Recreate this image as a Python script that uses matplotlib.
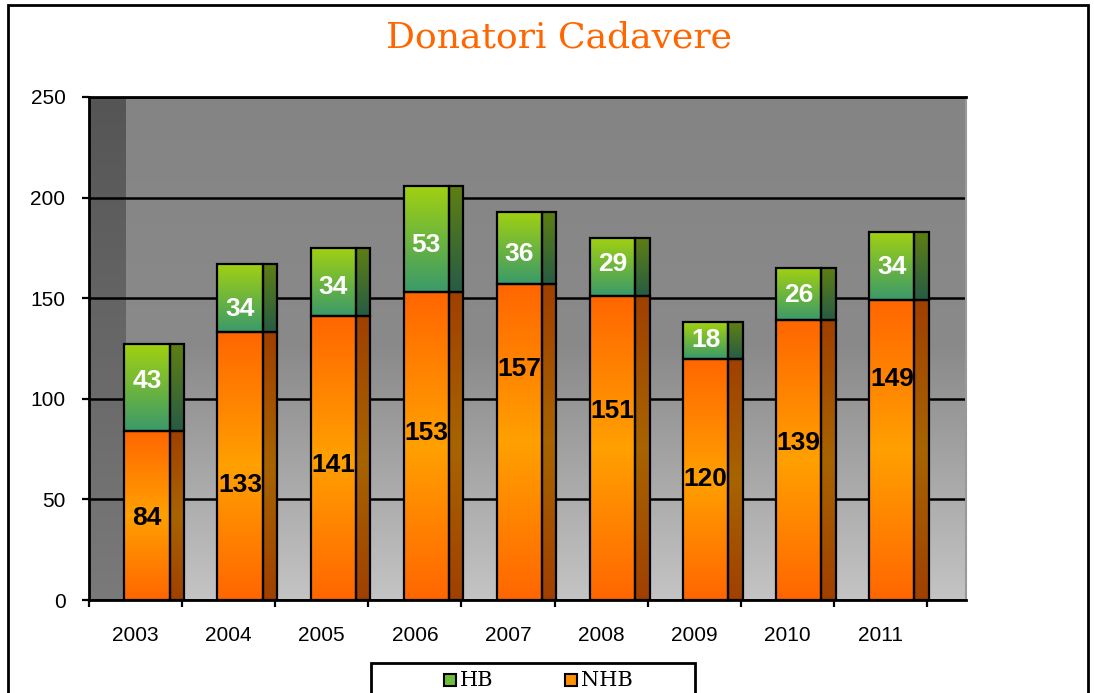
import numpy as np
import matplotlib
matplotlib.use('Agg')
import matplotlib.pyplot as plt
from matplotlib.colors import LinearSegmentedColormap
from matplotlib.patches import Rectangle

# ---- data ----
years = ['2003', '2004', '2005', '2006', '2007', '2008', '2009', '2010', '2011']
nhb = [84, 133, 141, 153, 157, 151, 120, 139, 149]
hb = [43, 34, 34, 53, 36, 29, 18, 26, 34]
nhb_label_pos = [41, 57, 67, 83, 115, 94, 60, 78, 110]
hb_label_pos = [109, 144.5, 155.5, 176.5, 172, 167, 129, 151.5, 165.5]

W, H = 1094, 693
fig = plt.figure(figsize=(W / 100, H / 100), dpi=100)
fig.patch.set_facecolor('white')

ax_l, ax_r, ax_t, ax_b = 89, 966, 97, 600
cat_px = (927 - 89) / 9.0
ax = fig.add_axes([ax_l / W, 1 - ax_b / H, (ax_r - ax_l) / W, (ax_b - ax_t) / H])
x_right = -0.5 + (ax_r - ax_l) / cat_px
wall_split = -0.5 + 37 / cat_px

def vgrad(x0, x1, y0, y1, stops, zorder, clip=None):
    cmap = LinearSegmentedColormap.from_list('g', stops)
    grad = np.linspace(0, 1, 256).reshape(-1, 1)
    im = ax.imshow(grad, cmap=cmap, aspect='auto', extent=(x0, x1, y0, y1),
                   origin='upper', interpolation='bilinear', zorder=zorder)
    if clip is not None:
        im.set_clip_path(clip)
    return im

# walls
vgrad(-0.5, wall_split, 0, 250, ['#555555', '#7a7a7a'], 0.1)
vgrad(wall_split, x_right, 0, 250, ['#848484', '#8a8a8a', '#c4c4c4'], 0.1)

x = np.arange(len(years))
f0, fw, sw = -0.12, 0.485, 0.155
nhb_arr = np.array(nhb)
hb_arr = np.array(hb)

front_n = ax.bar(x + f0, nhb_arr, width=fw, align='edge', facecolor='none',
                 edgecolor='black', linewidth=1.6, zorder=3)
side_n = ax.bar(x + f0 + fw, nhb_arr, width=sw, align='edge', facecolor='none',
                edgecolor='black', linewidth=1.6, zorder=3)
front_h = ax.bar(x + f0, hb_arr, bottom=nhb_arr, width=fw, align='edge', facecolor='none',
                 edgecolor='black', linewidth=1.6, zorder=3)
side_h = ax.bar(x + f0 + fw, hb_arr, bottom=nhb_arr, width=sw, align='edge', facecolor='none',
                edgecolor='black', linewidth=1.6, zorder=3)

def fill(bars, stops):
    for b in bars:
        x0, y0 = b.get_x(), b.get_y()
        vgrad(x0, x0 + b.get_width(), y0, y0 + b.get_height(), stops, 2.5, clip=b)

fill(front_n, ['#ff6600', '#ffa000', '#ff6600'])
fill(side_n, ['#a04000', '#a86400', '#a04000'])
fill(front_h, ['#a2d110', '#3a9a6a'])
fill(side_h, ['#5f7f12', '#265c45'])

# labels
for i in range(len(years)):
    cx = x[i] + f0 + fw / 2
    ax.text(cx, nhb_label_pos[i], str(nhb[i]), ha='center', va='center',
            fontsize=19, fontweight='bold', color='black',
            family='Liberation Sans', zorder=5)
    ax.text(cx, hb_label_pos[i], str(hb[i]), ha='center', va='center',
            fontsize=19, fontweight='bold', color='white',
            family='Liberation Sans', zorder=5)

ax.set_xlim(-0.5, x_right)
ax.set_ylim(0, 250)
ax.set_yticks(range(0, 251, 50))
ax.yaxis.grid(True, color='black', linewidth=1.8)
ax.set_axisbelow(True)
for gl in ax.yaxis.get_gridlines():
    gl.set_zorder(0.5)

ax.set_xticks(np.arange(-0.5, len(years), 1.0))
ax.set_xticklabels([])
ax.set_xticks(x, minor=True)
ax.set_xticklabels(years, minor=True)
ax.tick_params(axis='x', which='major', length=5, width=1.6, direction='out', color='black')
ax.tick_params(axis='x', which='minor', length=0, pad=19, labelsize=15)
ax.tick_params(axis='y', length=5, width=1.6, direction='out', pad=12, labelsize=15)
for lbl in ax.get_xticklabels(minor=True) + ax.get_yticklabels():
    lbl.set_family('Liberation Sans')

for s in ['left', 'bottom', 'top']:
    ax.spines[s].set_color('black')
    ax.spines[s].set_linewidth(2)
ax.spines['right'].set_color('#999999')
ax.spines['right'].set_linewidth(1.5)

# title
fig.text(559 / W, 1 - 38 / H, 'Donatori Cadavere', ha='center', va='center',
         fontsize=26, family='DejaVu Serif', color='#ff6600')

# outer frame
fig.add_artist(Rectangle((8 / W, -0.05), 1080 / W, 1.05 - 5 / H, transform=fig.transFigure,
                         fill=False, edgecolor='black', linewidth=2))

# legend (manual)
fig.add_artist(Rectangle((371 / W, -0.05), (695 - 371) / W, 0.05 + 1 - 663 / H,
                         transform=fig.transFigure, facecolor='white', edgecolor='black', linewidth=2))
leg_items = [('HB', '#6cbf3a', 444, 460), ('NHB', '#ff9000', 565, 581)]
for name, col, mx, tx in leg_items:
    fig.add_artist(Rectangle((mx / W, 1 - 686 / H), 12 / W, 12 / H, transform=fig.transFigure,
                             facecolor=col, edgecolor='black', linewidth=1.5))
    fig.text(tx / W, 1 - 680 / H, name, ha='left', va='center', fontsize=15,
             family='DejaVu Serif', color='black')

fig.savefig('out.png', dpi=100)
